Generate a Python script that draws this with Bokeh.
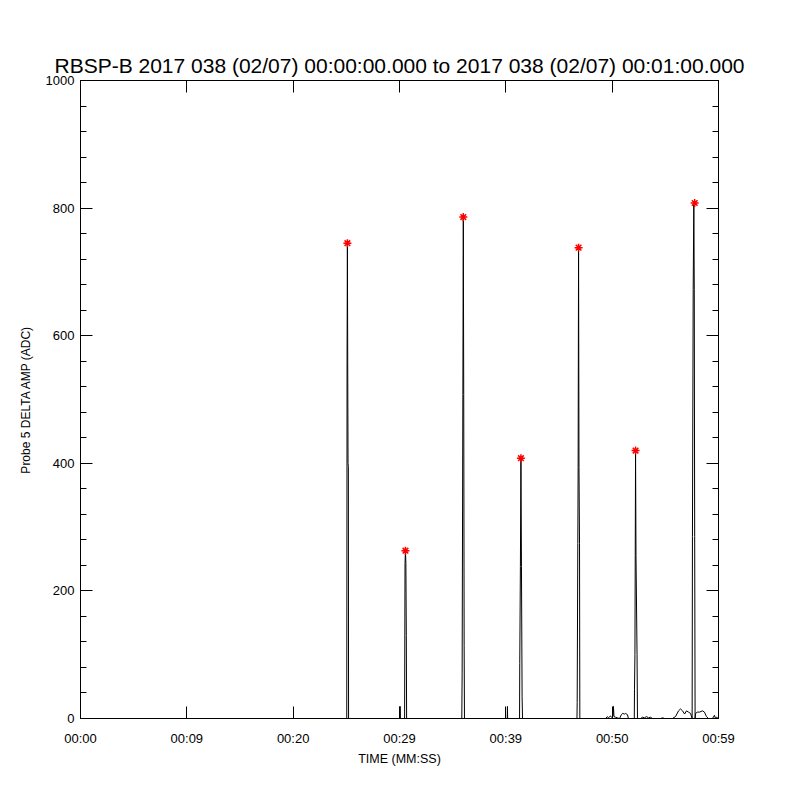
from bokeh.plotting import figure
from bokeh.embed import file_html
from bokeh.resources import INLINE
from bokeh.models import (Range1d, LinearAxis, FixedTicker, SingleIntervalTicker,
                          CustomJSTickFormatter)

TITLE = "RBSP-B 2017 038 (02/07) 00:00:00.000 to 2017 038 (02/07) 00:01:00.000"
X_LABEL = "TIME (MM:SS)"
Y_LABEL = "Probe 5 DELTA AMP (ADC)"

# x ticks (seconds) and their IDL-style labels
x_ticks = [0, 10, 20, 30, 40, 50, 60]
x_tick_labels = ["00:00", "00:09", "00:20", "00:29", "00:39", "00:50", "00:59"]

# waveform samples: time (s) and amplitude (ADC)
time_s = [0.0, 25.04, 25.07, 25.10, 25.13, 25.16, 25.19, 25.21,
          30.04, 30.06, 30.08,
          30.46, 30.48, 30.52, 30.56, 30.60, 30.64, 30.67,
          35.86, 35.89, 35.96, 36.00, 36.04, 36.08, 36.11,
          40.13, 40.15, 40.17,
          41.29, 41.31, 41.37, 41.42, 41.47, 41.53, 41.57,
          46.69, 46.71, 46.77, 46.80, 46.84, 46.88, 46.93, 46.96,
          49.37, 49.56, 49.65, 49.84, 49.94, 50.08, 50.12, 50.17, 50.31, 50.50, 50.69,
          50.87, 50.97, 51.16, 51.25, 51.44, 51.53,
          52.08, 52.10, 52.14, 52.17, 52.20, 52.24, 52.34, 52.38,
          52.67, 52.85, 53.04, 53.23, 53.42, 53.60, 53.79,
          54.55, 54.74, 54.93,
          55.67, 55.96, 56.24, 56.43, 56.62, 56.81, 56.99, 57.18, 57.37,
          57.52, 57.55, 57.62, 57.68, 57.72, 57.76, 57.80, 57.84,
          58.02, 58.21, 58.49, 58.68, 58.87, 59.06, 59.43, 59.62, 59.72, 59.81, 60.0]
amp_adc = [0, 0, 565, 745, 560, 400, 395, 0,
           0, 19, 0,
           0, 0, 243, 263, 243, 130, 0,
           0, 70, 508, 786, 508, 114, 0,
           0, 19, 0,
           0, 86, 238, 408, 238, 34, 0,
           0, 25, 274, 393, 738, 393, 274, 0,
           0, 3, 1, 4, 2, 4, 19, 3, 2, 1, 0,
           6, 8, 7, 8, 6, 0,
           0, 45, 100, 255, 420, 255, 100, 0,
           0, 2, 1, 3, 1, 2, 0,
           0, 1, 0,
           0, 3, 12, 15, 12, 7, 12, 10, 8,
           0, 285, 672, 808, 672, 285, 0, 8,
           10, 10, 12, 10, 3, 0, 0, 5, 0, 2, 0]

# detected peaks (red asterisks)
peak_t = [25.10, 30.56, 36.00, 41.42, 46.84, 52.20, 57.76]
peak_v = [745, 263, 786, 408, 738, 420, 808]

FONT = "Liberation Sans"

p = figure(frame_width=638, frame_height=638, output_backend="svg", toolbar_location=None,
           x_range=Range1d(0, 60), y_range=Range1d(0, 1000),
           min_border_left=80, min_border_top=80, min_border_right=30, min_border_bottom=64,
           x_axis_label=X_LABEL, y_axis_label=Y_LABEL, title=TITLE)
p.background_fill_color = "white"
p.border_fill_color = "white"
p.grid.visible = False
p.outline_line_color = "black"
p.outline_line_width = 1

p.title.text_font = FONT
p.title.text_font_size = "21px"
p.title.text_font_style = "normal"
p.title.align = "center"
p.title.text_color = "black"
p.title.standoff = 8

blank = CustomJSTickFormatter(code="return ''")

def style_x(ax, labels=True):
    ax.ticker = FixedTicker(ticks=x_ticks)
    ax.major_tick_in = 12
    ax.major_tick_out = 0
    ax.minor_tick_line_color = None
    ax.axis_line_color = "black"
    ax.major_tick_line_color = "black"
    ax.major_label_text_font = FONT
    ax.major_label_text_font_size = "13px"
    ax.major_label_text_color = "black"
    ax.major_label_standoff = 12
    ax.axis_label_text_font = FONT
    ax.axis_label_text_font_size = "12.5px"
    ax.axis_label_text_font_style = "normal"
    ax.axis_label_text_color = "black"
    ax.axis_label_standoff = 3
    if labels:
        ax.major_label_overrides = {t: s for t, s in zip(x_ticks, x_tick_labels)}
    else:
        ax.formatter = blank

def style_y(ax, labels=True):
    ax.ticker = SingleIntervalTicker(interval=200, num_minor_ticks=5)
    ax.major_tick_in = 12
    ax.major_tick_out = 0
    ax.minor_tick_in = 6
    ax.minor_tick_out = 0
    ax.axis_line_color = "black"
    ax.major_tick_line_color = "black"
    ax.minor_tick_line_color = "black"
    ax.major_label_text_font = FONT
    ax.major_label_text_font_size = "13px"
    ax.major_label_text_color = "black"
    ax.major_label_standoff = 6
    ax.axis_label_text_font = FONT
    ax.axis_label_text_font_size = "12px"
    ax.axis_label_text_font_style = "normal"
    ax.axis_label_text_color = "black"
    ax.axis_label_standoff = 10
    if not labels:
        ax.formatter = blank

style_x(p.xaxis[0])
style_y(p.yaxis[0])

top = LinearAxis()
style_x(top, labels=False)
p.add_layout(top, "above")
right = LinearAxis()
style_y(right, labels=False)
p.add_layout(right, "right")

p.line(time_s, amp_adc, line_color="black", line_width=1)
p.scatter(peak_t, peak_v, marker="asterisk", size=8, line_color="red", line_width=1.5)

open("out.html", "w").write(file_html(p, INLINE))
